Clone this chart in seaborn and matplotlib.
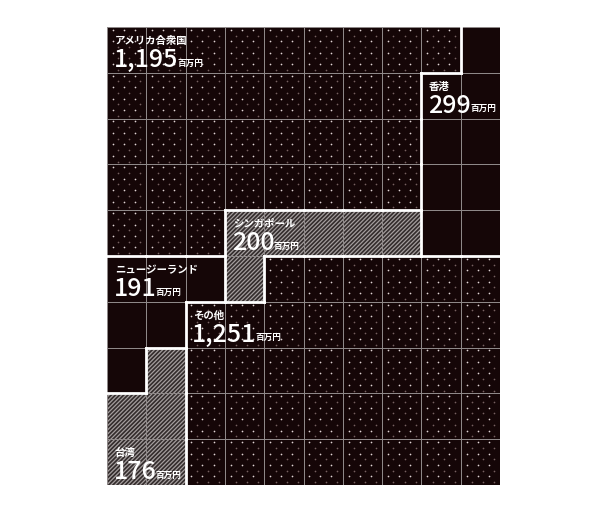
import matplotlib
matplotlib.use("Agg")
import matplotlib.pyplot as plt
import seaborn as sns
import numpy as np
from matplotlib.colors import ListedColormap
from matplotlib.patches import Rectangle
from matplotlib.collections import LineCollection

# data: amounts per region (百万円) and the 10x10 waffle layout
regions = ["アメリカ合衆国", "香港", "シンガポール", "ニュージーランド", "その他", "台湾"]
codes = ["U", "H", "S", "N", "O", "T"]
amounts = ["1,195", "299", "200", "191", "1,251", "176"]
layout = [
    "UUUUUUUUUH",
    "UUUUUUUUHH",
    "UUUUUUUUHH",
    "UUUUUUUUHH",
    "UUUSSSSSHH",
    "NNNSOOOOOO",
    "NNOOOOOOOO",
    "NTOOOOOOOO",
    "TTOOOOOOOO",
    "TTOOOOOOOO",
]
# cell where each label is anchored (col, row)
label_cells = [(0, 0), (8, 1), (3, 4), (0, 5), (2, 6), (0, 9)]

sns.set_theme(style="white")
plt.rcParams["font.family"] = ["Noto Sans CJK JP", "DejaVu Sans"]
plt.rcParams["hatch.linewidth"] = 0.9

grid = np.array([[codes.index(ch) for ch in row] for row in layout])
nrows, ncols = grid.shape

dark = "#150607"
clear = (0, 0, 0, 0)
styles = {"U": "dots", "H": "plain", "S": "hatch", "N": "plain", "O": "dots", "T": "hatch"}
cmap = ListedColormap([clear if styles[c] == "hatch" else dark for c in codes])

fig = plt.figure(figsize=(6.11, 5.17), dpi=100)
ax = fig.add_axes([107 / 611, 32 / 517, 393 / 611, 458 / 517])

sns.heatmap(grid, ax=ax, cmap=cmap, vmin=-0.5, vmax=len(codes) - 0.5, cbar=False,
            linewidths=0.6, linecolor="#8e8888", xticklabels=False, yticklabels=False)

# hatched cells behind the (transparent) mesh
for r in range(nrows):
    for c in range(ncols):
        if styles[codes[grid[r, c]]] == "hatch":
            ax.add_patch(Rectangle((c, r), 1, 1, facecolor="#332c2c", edgecolor="#a49e9e",
                                   hatch="////////", lw=0, zorder=0.5))

# dot pattern on dotted cells
bx, by, dx, dy = [], [], [], []
for r in range(nrows):
    for c in range(ncols):
        if styles[codes[grid[r, c]]] != "dots":
            continue
        for i in range(8):
            yy = r + (i + 0.5) / 8
            offs = [0.15, 0.43, 0.71] if i % 2 == 0 else [0.29, 0.57, 0.85]
            for o in offs:
                if i % 2 == 0:
                    bx.append(c + o); by.append(yy)
                else:
                    dx.append(c + o); dy.append(yy)
ax.scatter(bx, by, s=1.5, color="#e0d4d4", linewidths=0, zorder=2)
ax.scatter(dx, dy, s=1.5, color="#76605f", linewidths=0, zorder=2)

# white borders between regions
segs = []
for r in range(nrows):
    for c in range(ncols):
        if c + 1 < ncols and grid[r, c] != grid[r, c + 1]:
            segs.append([(c + 1, r), (c + 1, r + 1)])
        if r + 1 < nrows and grid[r, c] != grid[r + 1, c]:
            segs.append([(c, r + 1), (c + 1, r + 1)])
ax.add_collection(LineCollection(segs, colors="white", linewidths=2.0, zorder=3,
                                 capstyle="projecting"))

# labels
for name, amt, (c, r) in zip(regions, amounts, label_cells):
    ax.text(c + 0.2, r + 0.3, name, color="white", fontsize=7.5, fontweight="bold",
            va="center", ha="left", zorder=5)
    t = ax.text(c + 0.17, r + 0.87, amt, color="white", fontsize=18,
                fontweight="medium", va="baseline", ha="left", zorder=5)
    ax.annotate("百万円", xy=(1, 0), xycoords=t, xytext=(-0.5, 5.2),
                textcoords="offset points", color="white", fontsize=6.2,
                fontweight="bold", va="baseline", ha="left", zorder=5)

ax.set_xlim(0, ncols)
ax.set_ylim(nrows, 0)
for s in ax.spines.values():
    s.set_visible(False)

fig.savefig("out.png", dpi=100, facecolor="white")
